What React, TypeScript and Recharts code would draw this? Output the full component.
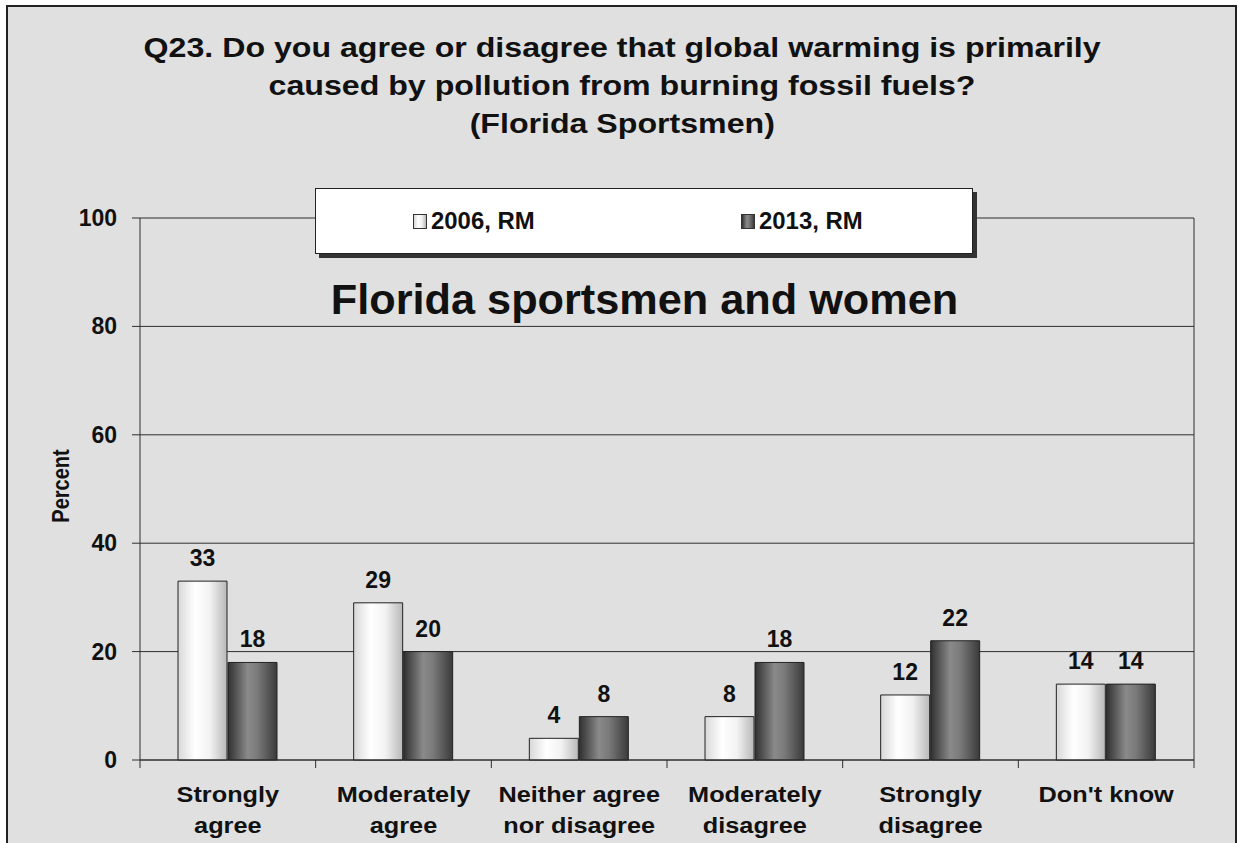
import React from 'react';
import {
  BarChart,
  Bar,
  XAxis,
  YAxis,
  CartesianGrid,
  LabelList,
  Legend
} from 'recharts';

const categories = [
  ['Strongly', 'agree'],
  ['Moderately', 'agree'],
  ['Neither agree', 'nor disagree'],
  ['Moderately', 'disagree'],
  ['Strongly', 'disagree'],
  ["Don't know"]
];
const values2006 = [33, 29, 4, 8, 12, 14];
const values2013 = [18, 20, 8, 18, 22, 14];
const seriesNames = ['2006, RM', '2013, RM'];
const yTicks = [0, 20, 40, 60, 80, 100];
const titleLines = [
  'Q23. Do you agree or disagree that global warming is primarily',
  'caused by pollution from burning fossil fuels?',
  '(Florida Sportsmen)'
];
const subtitle = 'Florida sportsmen and women';

const data = categories.map((lines, i) => ({
  name: lines.join('\n'),
  v2006: values2006[i],
  v2013: values2013[i]
}));

const W = 1239;
const H = 843;
const PLOT_LEFT = 140;
const PLOT_RIGHT = 1194;
const BAND = (PLOT_RIGHT - PLOT_LEFT) / categories.length;
const FONT = "'Liberation Sans', Arial, Helvetica, sans-serif";
const INK = '#111';
const LINE = '#2e2e2e';

function stretched(size: number, sx: number): React.CSSProperties {
  return {
    display: 'inline-block',
    fontFamily: FONT,
    fontWeight: 'bold',
    fontSize: size,
    color: INK,
    whiteSpace: 'nowrap',
    transform: `scaleX(${sx})`
  };
}

function CategoryTick(props: any) {
  const { x, y, payload, index } = props;
  const lines = String(payload.value).split('\n');
  const left = x - BAND / 2;
  const right = x + BAND / 2;
  return (
    <g>
      <line x1={left} x2={left} y1={y} y2={y + 8} stroke={LINE} />
      {index === categories.length - 1 && (
        <line x1={right} x2={right} y1={y} y2={y + 8} stroke={LINE} />
      )}
      <text
        transform={`translate(${x},${y}) scale(1.15,1)`}
        textAnchor="middle"
        fontFamily={FONT}
        fontWeight="bold"
        fontSize={22}
        fill={INK}
      >
        {lines.map((l, i) => (
          <tspan key={i} x={0} y={42 + i * 31}>
            {l}
          </tspan>
        ))}
      </text>
    </g>
  );
}

function PercentTick(props: any) {
  const { x, y, payload } = props;
  return (
    <text
      x={x}
      y={y + 8}
      textAnchor="end"
      fontFamily={FONT}
      fontWeight="bold"
      fontSize={23}
      fill={INK}
    >
      {payload.value}
    </text>
  );
}

function renderValueLabel(props: any) {
  const { x, y, width, value } = props;
  return (
    <text
      x={Number(x) + Number(width) / 2}
      y={Number(y) - 15}
      textAnchor="middle"
      fontFamily={FONT}
      fontWeight="bold"
      fontSize={23}
      fill={INK}
    >
      {value}
    </text>
  );
}

const swatchFills = [
  'linear-gradient(90deg,#d8d8d8 0%,#ffffff 35%,#f2f2f2 65%,#b8b8b8 100%)',
  'linear-gradient(90deg,#303030 0%,#8a8a8a 40%,#7a7a7a 60%,#3a3a3a 100%)'
];

function renderLegend(props: any) {
  const payload = props.payload || [];
  return (
    <div
      style={{
        boxSizing: 'border-box',
        width: '100%',
        height: '100%',
        background: '#fff',
        border: '1px solid #222',
        boxShadow: '4px 4px 0 #333',
        display: 'flex',
        alignItems: 'center',
        justifyContent: 'space-around'
      }}
    >
      {payload.map((entry: any, i: number) => (
        <div key={i} style={{ display: 'flex', alignItems: 'center', width: 134 }}>
          <span
            style={{
              display: 'inline-block',
              boxSizing: 'border-box',
              width: 14,
              height: 15,
              border: '1px solid #333',
              background: swatchFills[i],
              marginRight: 4
            }}
          />
          <span style={{ ...stretched(23, 1.04), transformOrigin: 'left center' }}>
            {entry.value}
          </span>
        </div>
      ))}
    </div>
  );
}

export default function App() {
  return (
    <div style={{ position: 'absolute', left: 0, top: 0, width: W, height: H, background: '#fff', overflow: 'hidden' }}>
      <div
        style={{
          position: 'absolute',
          left: 6,
          top: 5,
          width: 1231,
          height: 860,
          boxSizing: 'border-box',
          border: '2px solid #222',
          background: '#e0e0e0'
        }}
      />
      <div style={{ position: 'absolute', left: 0, top: 0 }}>
        <BarChart
          width={W}
          height={H}
          data={data}
          margin={{ top: 218, right: 44, bottom: 3, left: 80 }}
          barGap={1}
          barSize={49}
        >
          <defs>
            <linearGradient id="fill2006" x1="0" y1="0" x2="1" y2="0">
              <stop offset="0%" stopColor="#d8d8d8" />
              <stop offset="35%" stopColor="#ffffff" />
              <stop offset="65%" stopColor="#f2f2f2" />
              <stop offset="100%" stopColor="#b8b8b8" />
            </linearGradient>
            <linearGradient id="fill2013" x1="0" y1="0" x2="1" y2="0">
              <stop offset="0%" stopColor="#303030" />
              <stop offset="40%" stopColor="#8a8a8a" />
              <stop offset="60%" stopColor="#7a7a7a" />
              <stop offset="100%" stopColor="#3a3a3a" />
            </linearGradient>
          </defs>
          <CartesianGrid vertical={false} stroke={LINE} strokeOpacity={1} />
          <XAxis
            dataKey="name"
            height={80}
            tickSize={0}
            tickMargin={0}
            tickLine={false}
            axisLine={{ stroke: LINE }}
            tick={<CategoryTick />}
            interval={0}
          />
          <YAxis
            width={60}
            domain={[0, 100]}
            ticks={yTicks}
            tickSize={8}
            tickMargin={15}
            tickLine={{ stroke: LINE }}
            axisLine={{ stroke: LINE }}
            tick={<PercentTick />}
          />
          <YAxis
            yAxisId="frame"
            orientation="right"
            width={1}
            domain={[0, 100]}
            tick={false}
            tickLine={false}
            axisLine={{ stroke: LINE }}
          />
          <Legend
            layout="horizontal"
            verticalAlign="middle"
            align="center"
            content={renderLegend}
            wrapperStyle={{ left: 315, top: 188, width: 658, height: 66 }}
          />
          <Bar
            dataKey="v2006"
            name={seriesNames[0]}
            fill="url(#fill2006)"
            stroke="#222"
            strokeWidth={1}
            isAnimationActive={false}
          >
            <LabelList dataKey="v2006" content={renderValueLabel} />
          </Bar>
          <Bar
            dataKey="v2013"
            name={seriesNames[1]}
            fill="url(#fill2013)"
            stroke="#222"
            strokeWidth={1}
            isAnimationActive={false}
          >
            <LabelList dataKey="v2013" content={renderValueLabel} />
          </Bar>
        </BarChart>
      </div>
      <div style={{ position: 'absolute', left: 0, top: 29, width: W, textAlign: 'center', pointerEvents: 'none' }}>
        {titleLines.map((line, i) => (
          <div key={i} style={{ height: 38, lineHeight: '38px', marginLeft: 6 }}>
            <span style={stretched(27, 1.19)}>{line}</span>
          </div>
        ))}
      </div>
      <div style={{ position: 'absolute', left: 0, top: 275, width: 1290, textAlign: 'center', lineHeight: '50px' }}>
        <span style={stretched(42, 1.03)}>{subtitle}</span>
      </div>
      <div
        style={{
          position: 'absolute',
          left: 62,
          top: 486,
          transform: 'translate(-50%,-50%) scaleX(1.15) rotate(-90deg)',
          fontFamily: FONT,
          fontWeight: 'bold',
          fontSize: 20,
          color: INK,
          whiteSpace: 'nowrap'
        }}
      >
        Percent
      </div>
    </div>
  );
}
